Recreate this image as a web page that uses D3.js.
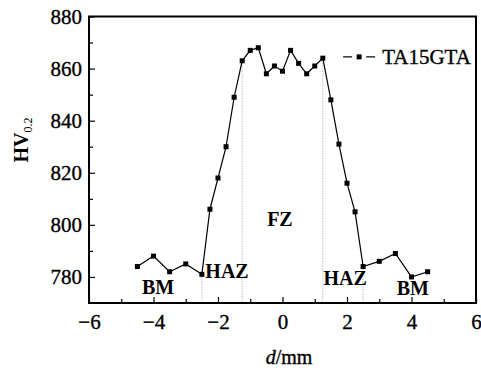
<!DOCTYPE html>
<html>
<head>
<meta charset="utf-8">
<script src="https://cdn.jsdelivr.net/npm/d3@7"></script>
<style>
  body { margin: 0; background: #fff; }
  svg text { font-family: "Liberation Serif", "DejaVu Serif", serif; fill: #000; }
  .heavy { stroke: #000; stroke-width: 0.35px; }
</style>
</head>
<body>
<svg id="chart" width="481" height="370"></svg>
<script>
// distance from weld centre (mm) and microhardness
var dist = [-4.5, -4, -3.5, -3, -2.5, -2.25, -2, -1.75, -1.5, -1.25, -1, -0.75, -0.5, -0.25,
            0, 0.25, 0.5, 0.75, 1, 1.25, 1.5, 1.75, 2, 2.25, 2.5, 3, 3.5, 4, 4.5];
var hv = [784, 788, 782, 785, 781, 806, 818, 830, 849, 863, 867, 868, 858, 861,
          859, 867, 862, 858, 861, 864, 848, 831, 816, 805, 784, 786, 789, 780, 782];
var seriesName = "TA15GTA";
// zone boundaries (dotted drop lines)
var boundaries = [-2.5, -1.25, 1.25, 2.5];
var zoneNames = ["BM", "HAZ", "FZ", "HAZ", "BM"];
var zoneX = [-3.86, -1.72, -0.08, 1.94, 4.04];
var zoneY = [773.5, 779.6, 799.6, 776.9, 773.2];
var xTicks = [-6, -4, -2, 0, 2, 4, 6];
var yTicks = [780, 800, 820, 840, 860, 880];

var svg = d3.select("#chart"),
    margin = {top: 16.5, right: 5, bottom: 67, left: 89},
    width  = +svg.attr("width")  - margin.left - margin.right,
    height = +svg.attr("height") - margin.top  - margin.bottom;

var x = d3.scaleLinear().domain([-6, 6]).range([0, width]);
var y = d3.scaleLinear().domain([770, 880]).range([height, 0]);

var g = svg.append("g")
  .attr("transform", "translate(" + margin.left + "," + margin.top + ")");

// dotted lines from the zone boundary points down to the axis
var bPts = dist.map(function(d, i) { return {x: d, y: hv[i]}; })
  .filter(function(p) { return boundaries.indexOf(p.x) >= 0; });
g.selectAll(".drop")
  .data(bPts)
  .enter().append("line")
    .attr("class", "drop")
    .attr("x1", function(d) { return x(d.x); })
    .attr("x2", function(d) { return x(d.x); })
    .attr("y1", function(d) { return y(d.y); })
    .attr("y2", height)
    .attr("stroke", "#aaa")
    .attr("stroke-width", 1)
    .attr("stroke-dasharray", "1,1.5");

// minor ticks
g.append("g")
  .attr("transform", "translate(0," + height + ")")
  .call(d3.axisBottom(x).tickValues(d3.range(-5, 6, 2)).tickSize(-4).tickFormat(""))
  .call(function(s) { s.select(".domain").remove(); });
g.append("g")
  .call(d3.axisLeft(y).tickValues(d3.range(790, 880, 20)).tickSize(-4).tickFormat(""))
  .call(function(s) { s.select(".domain").remove(); });

// major axes
var xAxis = g.append("g")
  .attr("transform", "translate(0," + height + ")")
  .call(d3.axisBottom(x).tickValues(xTicks).tickSize(-6).tickPadding(11)
        .tickFormat(function(d) { return d < 0 ? "\u2212" + Math.abs(d) : d; }));
var yAxis = g.append("g")
  .call(d3.axisLeft(y).tickValues(yTicks).tickSize(-6).tickPadding(7));

[xAxis, yAxis].forEach(function(a) {
  a.select(".domain").remove();
  a.attr("font-family", "Liberation Serif").attr("font-size", 21);
  a.selectAll("text").attr("class", "heavy").style("font-size", "21px");
});
g.selectAll(".tick line").attr("stroke", "#000").attr("stroke-width", 1.2);

// frame
g.append("rect")
  .attr("width", width)
  .attr("height", height)
  .attr("fill", "none")
  .attr("stroke", "#000")
  .attr("stroke-width", 2);

// data line
var line = d3.line()
  .x(function(d, i) { return x(dist[i]); })
  .y(function(d) { return y(d); });

g.append("path")
  .datum(hv)
  .attr("fill", "none")
  .attr("stroke", "#000")
  .attr("stroke-width", 1.2)
  .attr("d", line);

g.selectAll(".pt")
  .data(hv)
  .enter().append("rect")
    .attr("class", "pt")
    .attr("x", function(d, i) { return x(dist[i]) - 2.5; })
    .attr("y", function(d) { return y(d) - 2.5; })
    .attr("width", 5)
    .attr("height", 5)
    .attr("fill", "#000");

// zone labels
g.selectAll(".zone")
  .data(zoneNames)
  .enter().append("text")
    .attr("class", "zone")
    .attr("x", function(d, i) { return x(zoneX[i]); })
    .attr("y", function(d, i) { return y(zoneY[i]); })
    .attr("text-anchor", "middle")
    .style("font-size", "20px")
    .style("font-weight", "bold")
    .text(function(d) { return d; });

// legend
var leg = g.append("g").attr("transform", "translate(" + x(1.88) + "," + y(864.5) + ")");
leg.append("line").attr("x1", 0).attr("x2", 9).attr("stroke", "#000").attr("stroke-width", 1.2);
leg.append("line").attr("x1", 23).attr("x2", 32).attr("stroke", "#000").attr("stroke-width", 1.2);
leg.append("rect").attr("x", 13.5).attr("y", -2.5).attr("width", 5).attr("height", 5).attr("fill", "#000");
leg.append("text")
  .attr("class", "heavy")
  .attr("x", 39)
  .attr("y", 7)
  .style("font-size", "21px")
  .text(seriesName);

// axis titles
var yt = svg.append("text")
  .attr("transform", "translate(28,140) rotate(-90)")
  .attr("text-anchor", "middle")
  .style("font-size", "20px")
  .style("font-weight", "bold");
yt.append("tspan").text("HV");
yt.append("tspan").attr("dy", 4).style("font-size", "12px").style("font-weight", "normal").text("0.2");

var xt = svg.append("text")
  .attr("class", "heavy")
  .attr("x", 289)
  .attr("y", 364)
  .attr("text-anchor", "middle")
  .style("font-size", "20px");
xt.append("tspan").style("font-style", "italic").text("d");
xt.append("tspan").text("/mm");
</script>
</body>
</html>
